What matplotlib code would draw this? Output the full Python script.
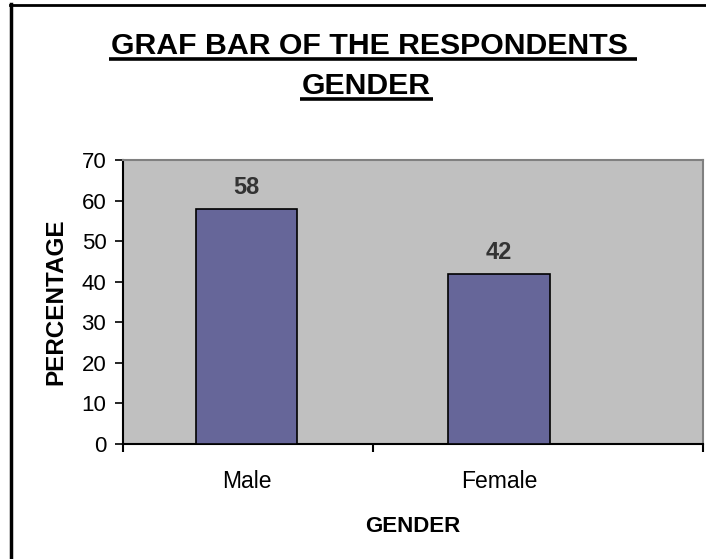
import matplotlib
matplotlib.use("Agg")
import matplotlib.pyplot as plt
from matplotlib.lines import Line2D

categories = ["Male", "Female"]
percentages = [58, 42]
yticks = [0, 10, 20, 30, 40, 50, 60, 70]

W, H = 706, 559
plt.rcParams['font.family'] = ['Liberation Sans', 'DejaVu Sans']

fig = plt.figure(figsize=(W / 100, H / 100), dpi=100)

def fx(x):
    return x / W

def fy(y):
    return 1 - y / H

# axes in pixel box: left 123, right 703, top 160, bottom 444
ax = fig.add_axes([fx(123), fy(444), (703 - 123) / W, (444 - 160) / H])
ax.set_facecolor('#C0C0C0')

xs = list(range(len(categories)))
bars = ax.bar(xs, percentages, width=0.402, color='#666699', edgecolor='black', linewidth=1.2, zorder=3)
ax.set_ylim(0, 70)
ax.set_xlim(-0.489, 1.808)
ax.set_yticks(yticks)
ax.set_yticklabels([str(t) for t in yticks], fontsize=16)
ax.set_xticks([-0.489, 0.5, 1.808])
ax.set_xticklabels([])
ax.set_xticks(xs, minor=True)
ax.set_xticklabels(categories, minor=True, fontsize=16.5)
ax.tick_params(axis='x', which='minor', length=0, pad=19)
ax.tick_params(axis='x', which='major', length=6, width=1.5, direction='out')
ax.tick_params(axis='y', which='major', length=6, width=1.2, direction='out', pad=6)

for s in ['top', 'right']:
    ax.spines[s].set_color('#808080')
    ax.spines[s].set_linewidth(1.5)
ax.spines['left'].set_color('black')
ax.spines['bottom'].set_color('black')
ax.spines['left'].set_linewidth(1.5)
ax.spines['bottom'].set_linewidth(1.5)

for b, v in zip(bars, percentages):
    ax.annotate(str(v), (b.get_x() + b.get_width() / 2, v), xytext=(0, 10.5),
                textcoords='offset points', ha='center', va='baseline',
                fontsize=17, fontweight='bold', color='#333333')

ax.set_ylabel('PERCENTAGE', fontsize=17.5, fontweight='bold', labelpad=10)
ax.set_xlabel('GENDER', fontsize=16, fontweight='bold', va='baseline')
ax.xaxis.set_label_coords(0.5, -(532 - 444) / (444 - 160))

# Title with underline
t1 = fig.text(fx(369), fy(54.3), 'GRAF BAR OF THE RESPONDENTS', fontsize=21.8, fontweight='bold',
              ha='center', va='baseline')
t2 = fig.text(fx(366.5), fy(94), 'GENDER', fontsize=21.8, fontweight='bold',
              ha='center', va='baseline')
fig.canvas.draw()
r = fig.canvas.get_renderer()
for t, base, extra in [(t1, 54.3, 8), (t2, 94, 0)]:
    bb = t.get_window_extent(renderer=r)
    y_line = fy(base + 4.5)
    fig.add_artist(Line2D([(bb.x0 - 2) / W, (bb.x1 + 2 + extra) / W], [y_line, y_line],
                          color='black', linewidth=2.6, solid_capstyle='butt'))

# Outer frame (left and top edges)
fig.add_artist(Line2D([fx(11), fx(11)], [fy(4), 0], color='black', linewidth=2.5))
fig.add_artist(Line2D([fx(10), 1], [fy(4.5), fy(4.5)], color='black', linewidth=2))

fig.savefig('out.png', dpi=100)
